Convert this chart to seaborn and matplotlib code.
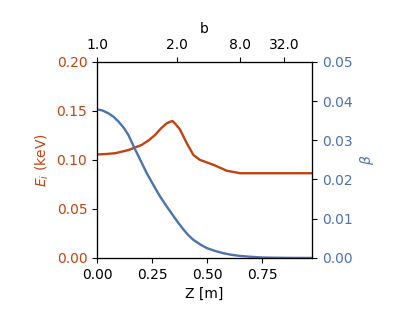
import pandas as pd
import matplotlib
matplotlib.use('Agg')
import matplotlib.pyplot as plt
import seaborn as sns

plt.rcParams['font.family'] = ['DejaVu Sans']
plt.rcParams['font.size'] = 10

# ion energy along z
z_e = [0.0, 0.04, 0.082, 0.142, 0.203, 0.235, 0.264, 0.29, 0.317, 0.342, 0.355,
       0.377, 0.408, 0.438, 0.468, 0.529, 0.589, 0.65, 0.75, 0.85, 0.977]
e_i = [0.1055, 0.106, 0.1068, 0.110, 0.1153, 0.120, 0.1255, 0.132, 0.1374, 0.1398,
       0.137, 0.131, 0.117, 0.105, 0.100, 0.095, 0.089, 0.0864, 0.0864, 0.0864, 0.0864]

# beta along z
z_b = [0.0, 0.025, 0.051, 0.075, 0.097, 0.12, 0.142, 0.173, 0.2, 0.226, 0.256,
       0.286, 0.317, 0.347, 0.37, 0.392, 0.415, 0.438, 0.47, 0.499, 0.535, 0.574,
       0.61, 0.65, 0.695, 0.75, 0.8, 0.9, 0.977]
beta = [0.0379, 0.0376, 0.0369, 0.0360, 0.0348, 0.0333, 0.0314, 0.0277, 0.0246,
        0.0216, 0.0186, 0.0157, 0.0131, 0.0107, 0.0089, 0.0073, 0.0058, 0.0046,
        0.0034, 0.0025, 0.0018, 0.0012, 0.0008, 0.0005, 0.0003, 0.0001, 0.00005,
        0.0, 0.0]

# top axis (mirror ratio b)
b_pos = [0.0, 0.364, 0.65, 0.85]
b_labels = ['1.0', '2.0', '8.0', '32.0']

c_e = '#c1440e'
c_b = '#4c72b0'

df_e = pd.DataFrame({'z': z_e, 'E': e_i})
df_b = pd.DataFrame({'z': z_b, 'beta': beta})

fig = plt.figure(figsize=(4.01, 3.24), dpi=100)
ax = fig.add_axes([0.242, 0.204, 0.536, 0.605])
sns.lineplot(data=df_e, x='z', y='E', ax=ax, color=c_e, lw=1.7)
ax.set_xlim(0, 0.977)
ax.set_ylim(0, 0.2)
ax.set_yticks([0, 0.05, 0.10, 0.15, 0.20])
ax.set_yticklabels(['0.00', '0.05', '0.10', '0.15', '0.20'])
ax.set_xticks([0, 0.25, 0.5, 0.75])
ax.set_xticklabels(['0.00', '0.25', '0.50', '0.75'])
ax.set_xlabel('Z [m]')
ax.set_ylabel('$E_i$ (keV)', color=c_e)
ax.tick_params(axis='y', labelcolor=c_e)

ax2 = ax.twinx()
sns.lineplot(data=df_b, x='z', y='beta', ax=ax2, color=c_b, lw=1.7)
ax2.set_ylim(0, 0.05)
ax2.set_yticks([0, 0.01, 0.02, 0.03, 0.04, 0.05])
ax2.set_yticklabels(['0.00', '0.01', '0.02', '0.03', '0.04', '0.05'])
ax2.set_ylabel(r'$\beta$', color=c_b)
ax2.tick_params(axis='y', labelcolor=c_b)

ax3 = ax.twiny()
ax3.set_xlim(ax.get_xlim())
ax3.set_xticks(b_pos)
ax3.set_xticklabels(b_labels)
ax3.set_xlabel('b')

fig.savefig('out.png', dpi=100)
